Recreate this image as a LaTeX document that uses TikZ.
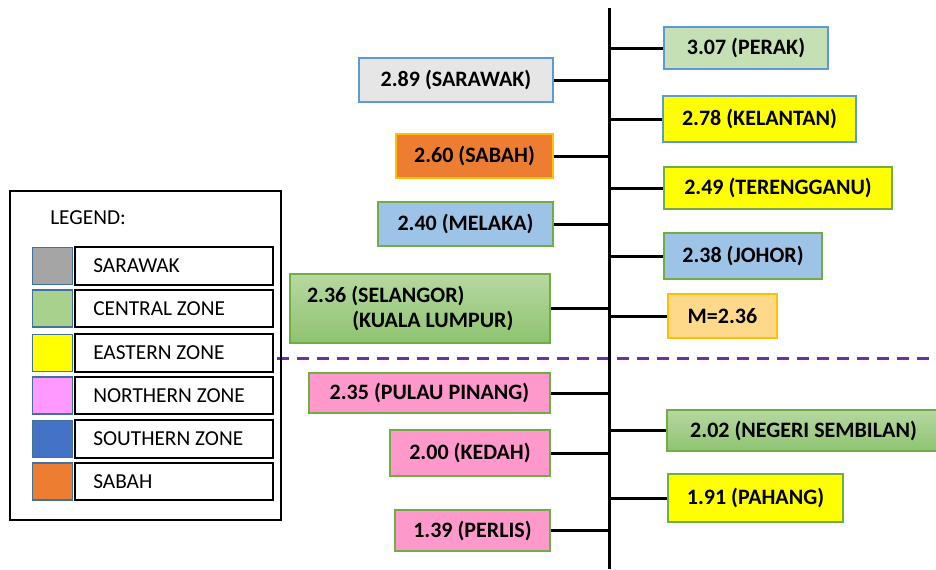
\documentclass[tikz,border=0pt]{standalone}
\usepackage{fontspec}
\setmainfont{Carlito}
\definecolor{sarawakgray}{HTML}{E7E6E6}
\definecolor{swgray}{HTML}{A5A5A5}
\definecolor{edgeblue}{HTML}{5B9BD5}
\definecolor{edgegreen}{HTML}{70AD47}
\definecolor{edgegold}{HTML}{FFC000}
\definecolor{sabahorange}{HTML}{ED7D31}
\definecolor{zoneyellow}{HTML}{FFFF00}
\definecolor{southblue}{HTML}{9DC3E6}
\definecolor{swblue}{HTML}{4472C4}
\definecolor{perakgreen}{HTML}{C5E0B4}
\definecolor{swgreen}{HTML}{A9D18E}
\definecolor{greentop}{HTML}{B6D8A1}
\definecolor{greenbot}{HTML}{8EC370}
\definecolor{northpink}{HTML}{FF99CC}
\definecolor{swpink}{HTML}{FF99FF}
\definecolor{meanpeach}{HTML}{FFD98A}
\definecolor{cutpurple}{HTML}{7030A0}
\definecolor{swedge}{HTML}{41719C}
\tikzset{
  state/.style 2 args={draw, line width=1.5pt, font=\bfseries\fontsize{16.5}{19}\selectfont,
    inner sep=0pt, minimum width=#1*0.75pt, minimum height=#2*0.75pt},
  swatch/.style={draw=swedge, line width=1.2pt, minimum width=30pt, minimum height=28pt, inner sep=0pt},
  legbox/.style={draw, line width=1.5pt, minimum width=148pt, minimum height=28pt, inner sep=0pt},
  legtext/.style={anchor=west, inner sep=0pt, font=\fontsize{16}{19}\selectfont},
  branch/.style={line width=2.25pt}
}
\begin{document}
\begin{tikzpicture}[x=0.75pt, y=-0.75pt]
    \useasboundingbox (0,0) rectangle (936,569);
    \draw [cutpurple, line width=2.25pt, dash pattern=on 9pt off 6pt] (277,358) -- (936,358); %cut line
    \coordinate (top) at (609,8);
    \coordinate (bot) at (609,569);
    \draw [branch] (top) -- (bot); %trunk
    % right side
    \node [state={164}{42}, draw=edgeblue, fill=perakgreen] (perak) at (746,48) {3.07 (PERAK)};
    \node [state={193}{46}, draw=edgeblue, fill=zoneyellow] (kelantan) at (759.5,119) {2.78 (KELANTAN)};
    \node [state={228}{42}, draw=edgegreen, fill=zoneyellow] (terengganu) at (778,188) {2.49 (TERENGGANU)};
    \node [state={158}{46}, draw=edgegreen, fill=southblue] (johor) at (743,256) {2.38 (JOHOR)};
    \node [state={109}{44}, draw=edgegold, fill=meanpeach] (mean) at (722.5,316) {M=2.36};
    \node [state={273}{41}, draw=edgegreen, top color=greentop, bottom color=greenbot] (negeri) at (803.5,430.5) {2.02 (NEGERI SEMBILAN)};
    \node [state={175}{48}, draw=edgegreen, fill=zoneyellow] (pahang) at (755.5,498) {1.91 (PAHANG)};
    % left side
    \node [state={194}{44}, draw=edgeblue, fill=sarawakgray] (sarawak) at (456,80) {2.89 (SARAWAK)};
    \node [state={157}{44}, draw=edgegold, fill=sabahorange] (sabah) at (474.5,156) {2.60 (SABAH)};
    \node [state={175}{44}, draw=edgegreen, fill=southblue] (melaka) at (465.5,224) {2.40 (MELAKA)};
    \node [state={260}{69}, draw=edgegreen, top color=greentop, bottom color=greenbot, align=flush left, text width=169.5pt] (selangor) at (420,308.5) {2.36 (SELANGOR)\\\hspace*{34pt}(KUALA LUMPUR)};
    \node [state={241}{40}, draw=edgegreen, fill=northpink] (pinang) at (429.5,393) {2.35 (PULAU PINANG)};
    \node [state={160}{46}, draw=edgegreen, fill=northpink] (kedah) at (470,453) {2.00 (KEDAH)};
    \node [state={155}{41}, draw=edgegreen, fill=northpink] (perlis) at (472.5,530.5) {1.39 (PERLIS)};
    % branches
    \draw [branch] (perak.west) -- (perak.west -| top);
    \draw [branch] (kelantan.west) -- (kelantan.west -| top);
    \draw [branch] (terengganu.west) -- (terengganu.west -| top);
    \draw [branch] (johor.west) -- (johor.west -| top);
    \draw [branch] (mean.west) -- (mean.west -| top);
    \draw [branch] (negeri.west) -- (negeri.west -| top);
    \draw [branch] (pahang.west) -- (pahang.west -| top);
    \draw [branch] (sarawak.east) -- (sarawak.east -| top);
    \draw [branch] (sabah.east) -- (sabah.east -| top);
    \draw [branch] (melaka.east) -- (melaka.east -| top);
    \draw [branch] (selangor.east) -- (selangor.east -| top);
    \draw [branch] (pinang.east) -- (pinang.east -| top);
    \draw [branch] (kedah.east) -- (kedah.east -| top);
    \draw [branch] (perlis.east) -- (perlis.east -| top);
    % legend
    \draw [line width=1.5pt] (10,191) rectangle (281,520); %legend frame
    \node [legtext] (legtitle) at (50,218) {LEGEND:};
    \node [swatch, fill=swgray] (sw1) at (52.5,266) {};
    \node [legbox] (lb1) at (174,266) {};
    \node [legtext] at (93,266) {SARAWAK};
    \node [swatch, fill=swgreen] (sw2) at (52.5,308.5) {};
    \node [legbox] (lb2) at (174,308.5) {};
    \node [legtext] at (93,308.5) {CENTRAL ZONE};
    \node [swatch, fill=zoneyellow] (sw3) at (52.5,353) {};
    \node [legbox] (lb3) at (174,353) {};
    \node [legtext] at (93,353) {EASTERN ZONE};
    \node [swatch, fill=swpink] (sw4) at (52.5,395.5) {};
    \node [legbox] (lb4) at (174,395.5) {};
    \node [legtext] at (93,395.5) {NORTHERN ZONE};
    \node [swatch, fill=swblue] (sw5) at (52.5,439) {};
    \node [legbox] (lb5) at (174,439) {};
    \node [legtext] at (93,439) {SOUTHERN ZONE};
    \node [swatch, fill=sabahorange] (sw6) at (52.5,481.5) {};
    \node [legbox] (lb6) at (174,481.5) {};
    \node [legtext] at (93,481.5) {SABAH};
\end{tikzpicture}
\end{document}
